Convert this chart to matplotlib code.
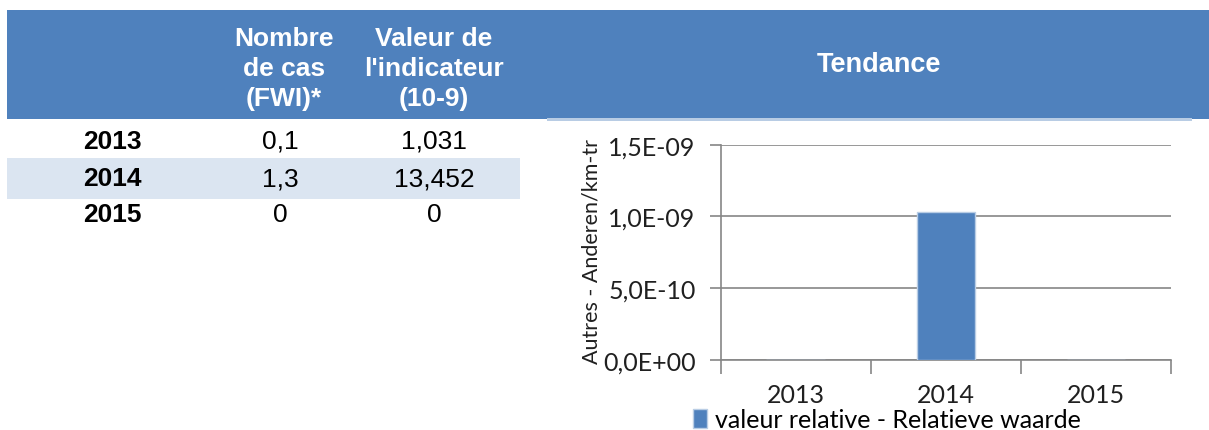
import matplotlib
matplotlib.use('Agg')
import matplotlib.pyplot as plt
from matplotlib.patches import Rectangle
import numpy as np

# Table data
years = ['2013', '2014', '2015']
nb_cas = ['0,1', '1,3', '0']
valeur_ind = ['1,031', '13,452', '0']
headers = ['Nombre\nde cas\n(FWI)*', 'Valeur de\nl\'indicateur\n(10-9)']

# Chart data
chart_years = ['2013', '2014', '2015']
chart_values = [0.0, 1.031e-9, 0.0]

W, H = 1209, 431
BLUE = '#4F81BD'
arial = 'Liberation Sans'
chart_font = 'Lato'


def px_rect(x0, y0, x1, y1, color):
    return Rectangle((x0 / W, 1 - y1 / H), (x1 - x0) / W, (y1 - y0) / H,
                     transform=fig.transFigure, color=color, lw=0, zorder=0)


def ftext(x, y, s, **kw):
    fig.text(x / W, 1 - y / H, s, **kw)


fig = plt.figure(figsize=(W / 100, H / 100), dpi=100)

# Header band
fig.add_artist(px_rect(7, 11, W, 119.5, BLUE))
fig.add_artist(px_rect(547, 119.5, 1192, 121.5, '#B8CCE4'))
# Striped row for 2014
fig.add_artist(px_rect(7, 159, 520, 200, '#DBE5F1'))

# Header text
for xc, h in zip([284, 434], headers):
    ftext(xc, 69, h, ha='center', va='center', color='white', fontsize=19,
          fontweight='bold', family=arial, linespacing=1.3)
ftext(879, 65, 'Tendance', ha='center', va='center', color='white', fontsize=19.5,
      fontweight='bold', family=arial)

# Table rows
row_y = [142, 179, 215]
for y, yr, n, v in zip(row_y, years, nb_cas, valeur_ind):
    ftext(112, y, yr, ha='center', va='center', fontsize=19, fontweight='bold', family=arial)
    ftext(280, y, n, ha='center', va='center', fontsize=19, family=arial)
    ftext(434, y, v, ha='center', va='center', fontsize=19, family=arial)

# Chart
ax = fig.add_axes([720.7 / W, 1 - 360.7 / H, (1171 - 720.7) / W, (360.7 - 145.7) / H])
x = np.arange(len(chart_years))
ax.bar(x, chart_values, width=0.39, color=BLUE, edgecolor='#B9CDE5', linewidth=1, zorder=3,
       label='valeur relative - Relatieve waarde')
ax.set_xlim(-0.5, len(chart_years) - 0.5)
ax.set_ylim(0, 1.5e-9)
ax.set_yticks([0, 0.5e-9, 1.0e-9, 1.5e-9])
ax.set_yticklabels([f'{v:.1E}'.replace('.', ',') for v in ax.get_yticks()],
                   fontsize=18, family=chart_font, color='#202020')
ax.yaxis.grid(True, color='#868686', linewidth=1.2, zorder=0)
ax.set_axisbelow(True)

# category tick marks at boundaries, labels in the middle
ax.set_xticks(np.arange(len(chart_years) + 1) - 0.5)
ax.set_xticklabels([])
ax.set_xticks(x, minor=True)
ax.set_xticklabels(chart_years, minor=True, fontsize=18, family=chart_font, color='#202020')
ax.tick_params(axis='x', which='major', length=10, color='#868686', width=1.2)
ax.tick_params(axis='x', which='minor', length=0, pad=17)
ax.tick_params(axis='y', length=8, color='#868686', width=1.2, pad=10)

for s in ['top', 'right']:
    ax.spines[s].set_visible(False)
for s in ['left', 'bottom']:
    ax.spines[s].set_color('#868686')
    ax.spines[s].set_linewidth(1.2)

ftext(591, 252, 'Autres - Anderen/km-tr', rotation=90, ha='center', va='center',
      fontsize=15.5, family=chart_font, color='#202020')

fig.legend(loc='center', bbox_to_anchor=(887 / W, 1 - 421 / H), frameon=False,
           handlelength=0.55, handleheight=0.8, handletextpad=0.35,
           prop={'family': chart_font, 'size': 18}, borderaxespad=0, borderpad=0)

plt.savefig('out.png', dpi=100)
